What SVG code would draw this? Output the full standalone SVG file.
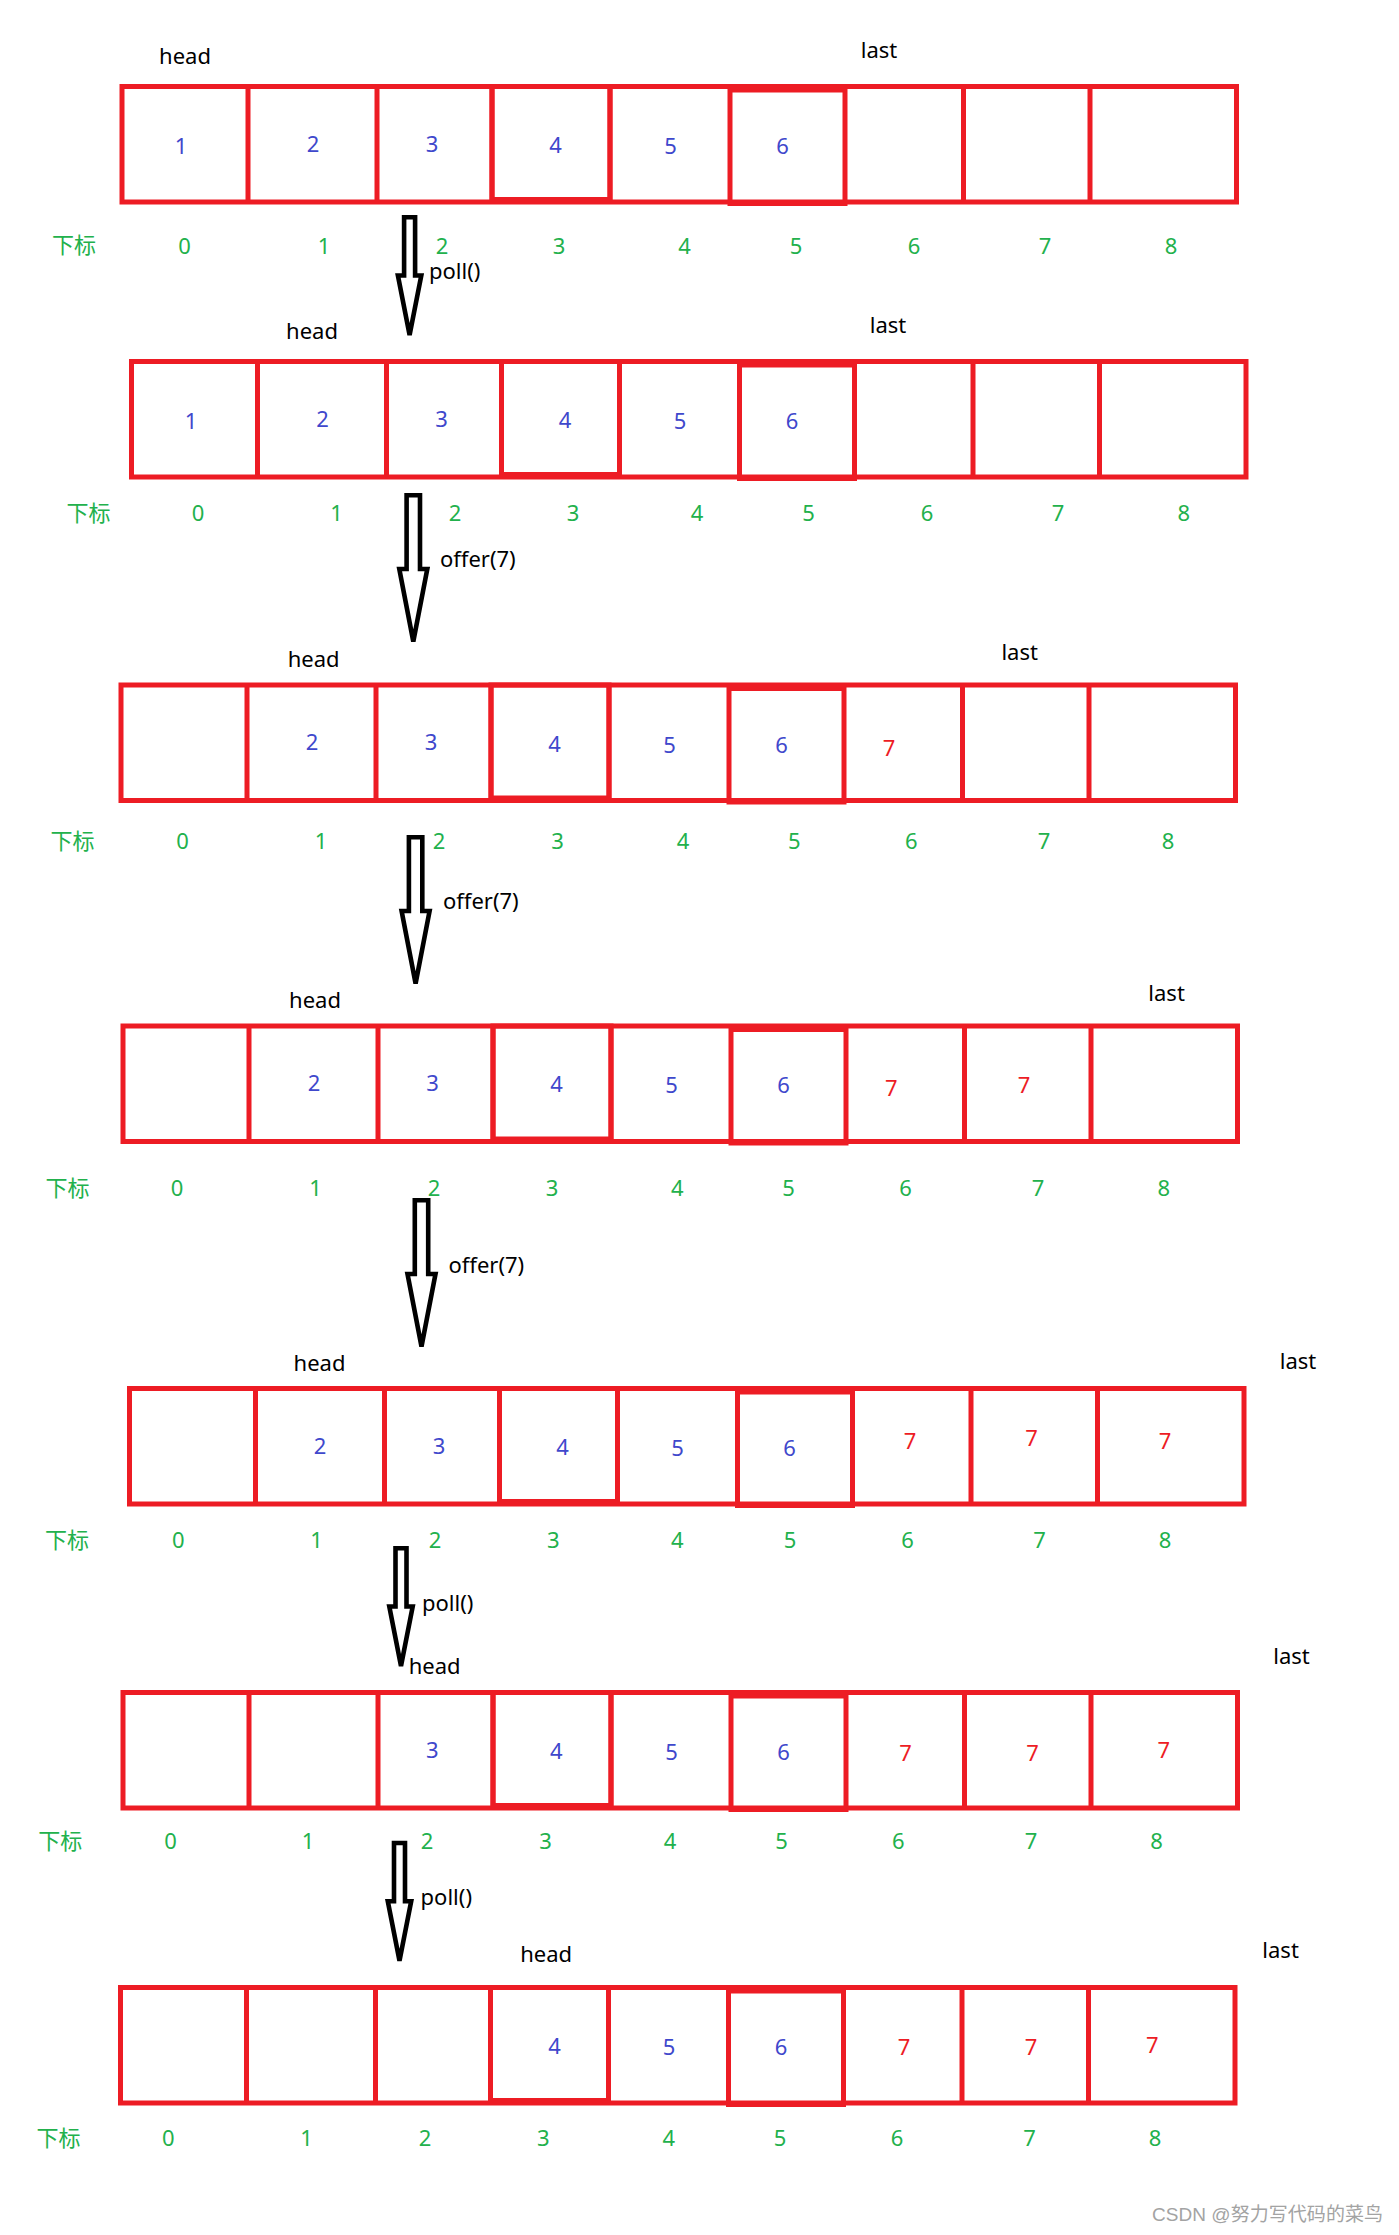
<svg xmlns="http://www.w3.org/2000/svg" xmlns:xlink="http://www.w3.org/1999/xlink" width="1399" height="2235" viewBox="0 0 1399 2235">
<style>
text{font-family:"Noto Sans","Liberation Sans","Noto Sans CJK SC",sans-serif;font-size:22px}
.k{fill:#000}
.b{fill:#3F48CC;text-anchor:middle}
.r{fill:#ED1C24;text-anchor:middle}
.g{fill:#22B14C;text-anchor:middle}
.m{text-anchor:middle}
.cj{font-family:"Noto Sans CJK SC","Noto Sans",sans-serif}
.wm{fill:#a3a3a3;font-family:"Liberation Sans","Noto Sans CJK SC",sans-serif;font-size:19px}
.arr{fill:#fff;stroke:#000;stroke-width:4.6;stroke-linejoin:miter}
</style>
<defs>
<g id="frame" fill="none" stroke="#ED1C24" stroke-width="5">
<rect x="122" y="86.5" width="1114.5" height="115.5"/>
<path d="M248,86.5V202M377,86.5V202M492,86.5V202M610,86.5V202M963.5,86.5V202M1090,86.5V202"/>
<rect x="492" y="86.5" width="118" height="113"/>
<rect x="730" y="90" width="115" height="113.5"/>
</g>
<path id="arrS" class="arr" d="M-5.5,2.3H5.5V60.5H11.7L0,120L-11.7,60.5H-5.5Z"/>
<path id="arrL" class="arr" d="M-6.7,2.3H6.7V76H14L0,148.5L-14,76H-6.7Z"/>
</defs>
<rect width="1399" height="2235" fill="#fff"/>

<g id="row1">
<use xlink:href="#frame"/>
<text class="k m" x="185" y="64">head</text>
<text class="k m" x="879" y="58">last</text>
<text class="b" x="181" y="153.5">1</text><text class="b" x="313" y="151.5">2</text><text class="b" x="432" y="151.5">3</text><text class="b" x="555.5" y="153">4</text><text class="b" x="670.5" y="154">5</text><text class="b" x="782.5" y="154">6</text>
<text class="g cj" x="74" y="253">下标</text>
<text class="g" x="184.5" y="254">0</text><text class="g" x="324" y="254">1</text><text class="g" x="442" y="254">2</text><text class="g" x="559" y="254">3</text><text class="g" x="684.5" y="254">4</text><text class="g" x="796" y="254">5</text><text class="g" x="914" y="254">6</text><text class="g" x="1045" y="254">7</text><text class="g" x="1171" y="254">8</text>
</g>

<g id="row2">
<use xlink:href="#frame" transform="translate(9.5,275)"/>
<text class="k m" x="312" y="338.5">head</text>
<text class="k m" x="888" y="332.5">last</text>
<text class="b" x="191" y="428.5">1</text><text class="b" x="322.5" y="426.5">2</text><text class="b" x="441.5" y="426.5">3</text><text class="b" x="565" y="428">4</text><text class="b" x="680" y="429">5</text><text class="b" x="792" y="429">6</text>
<text class="g cj" x="88.4" y="521">下标</text>
<text class="g" x="198" y="521">0</text><text class="g" x="336.6" y="521">1</text><text class="g" x="455" y="521">2</text><text class="g" x="573" y="521">3</text><text class="g" x="697" y="521">4</text><text class="g" x="808.6" y="521">5</text><text class="g" x="927" y="521">6</text><text class="g" x="1058" y="521">7</text><text class="g" x="1183.7" y="521">8</text>
</g>

<g id="row3">
<use xlink:href="#frame" transform="translate(-1,598.5)"/>
<text class="k m" x="313.7" y="667">head</text>
<text class="k m" x="1019.7" y="660">last</text>
<text class="b" x="312" y="750">2</text><text class="b" x="431" y="750">3</text><text class="b" x="554.5" y="751.5">4</text><text class="b" x="669.5" y="752.5">5</text><text class="b" x="781.5" y="752.5">6</text>
<text class="r" x="889" y="756">7</text>
<text class="g cj" x="72.5" y="849">下标</text>
<text class="g" x="182.5" y="849">0</text><text class="g" x="321" y="849">1</text><text class="g" x="439" y="849">2</text><text class="g" x="557.6" y="849">3</text><text class="g" x="683" y="849">4</text><text class="g" x="794.3" y="849">5</text><text class="g" x="911.3" y="849">6</text><text class="g" x="1044" y="849">7</text><text class="g" x="1168" y="849">8</text>
</g>

<g id="row4">
<use xlink:href="#frame" transform="translate(1,939.5)"/>
<text class="k m" x="315" y="1008">head</text>
<text class="k m" x="1166.6" y="1001">last</text>
<text class="b" x="314" y="1090.5">2</text><text class="b" x="432.5" y="1090.5">3</text><text class="b" x="556.5" y="1092">4</text><text class="b" x="671.5" y="1093">5</text><text class="b" x="783.5" y="1093">6</text>
<text class="r" x="891.3" y="1096">7</text><text class="r" x="1024" y="1093">7</text>
<text class="g cj" x="67.5" y="1196">下标</text>
<text class="g" x="177" y="1196">0</text><text class="g" x="315.5" y="1196">1</text><text class="g" x="434" y="1196">2</text><text class="g" x="552" y="1196">3</text><text class="g" x="677.4" y="1196">4</text><text class="g" x="788.6" y="1196">5</text><text class="g" x="905.6" y="1196">6</text><text class="g" x="1038" y="1196">7</text><text class="g" x="1163.7" y="1196">8</text>
</g>

<g id="row5">
<use xlink:href="#frame" transform="translate(7.5,1302)"/>
<text class="k m" x="319.5" y="1371">head</text>
<text class="k m" x="1298" y="1369">last</text>
<text class="b" x="320" y="1453.5">2</text><text class="b" x="439" y="1453.5">3</text><text class="b" x="562.5" y="1455">4</text><text class="b" x="677.5" y="1456">5</text><text class="b" x="789.6" y="1456">6</text>
<text class="r" x="910" y="1449">7</text><text class="r" x="1031.5" y="1446">7</text><text class="r" x="1165" y="1449">7</text>
<text class="g cj" x="67" y="1548">下标</text>
<text class="g" x="178.3" y="1548">0</text><text class="g" x="316.6" y="1548">1</text><text class="g" x="435" y="1548">2</text><text class="g" x="553.3" y="1548">3</text><text class="g" x="677.4" y="1548">4</text><text class="g" x="790" y="1548">5</text><text class="g" x="907.6" y="1548">6</text><text class="g" x="1039.6" y="1548">7</text><text class="g" x="1165" y="1548">8</text>
</g>

<g id="row6">
<use xlink:href="#frame" transform="translate(1,1606)"/>
<text class="k m" x="434.6" y="1674">head</text>
<text class="k m" x="1291.5" y="1664">last</text>
<text class="b" x="432.3" y="1758">3</text><text class="b" x="556.2" y="1759">4</text><text class="b" x="671.6" y="1760">5</text><text class="b" x="783.5" y="1760">6</text>
<text class="r" x="905.6" y="1760.5">7</text><text class="r" x="1032.5" y="1760.5">7</text><text class="r" x="1163.7" y="1758">7</text>
<text class="g cj" x="60.3" y="1849">下标</text>
<text class="g" x="170.5" y="1849">0</text><text class="g" x="308" y="1849">1</text><text class="g" x="427" y="1849">2</text><text class="g" x="545.5" y="1849">3</text><text class="g" x="670" y="1849">4</text><text class="g" x="781.5" y="1849">5</text><text class="g" x="898.4" y="1849">6</text><text class="g" x="1031" y="1849">7</text><text class="g" x="1156.6" y="1849">8</text>
</g>

<g id="row7">
<use xlink:href="#frame" transform="translate(-1.5,1901)"/>
<text class="k m" x="546.2" y="1962">head</text>
<text class="k m" x="1280.6" y="1957.5">last</text>
<text class="b" x="554.5" y="2053.5">4</text><text class="b" x="669" y="2054.5">5</text><text class="b" x="781" y="2054.5">6</text>
<text class="r" x="904.1" y="2054.5">7</text><text class="r" x="1031" y="2054.5">7</text><text class="r" x="1152.3" y="2053">7</text>
<text class="g cj" x="58.5" y="2146">下标</text>
<text class="g" x="168.3" y="2146">0</text><text class="g" x="306.6" y="2146">1</text><text class="g" x="425" y="2146">2</text><text class="g" x="543.3" y="2146">3</text><text class="g" x="668.8" y="2146">4</text><text class="g" x="780" y="2146">5</text><text class="g" x="897" y="2146">6</text><text class="g" x="1029.6" y="2146">7</text><text class="g" x="1155" y="2146">8</text>
</g>

<g id="connectors">
<use xlink:href="#arrS" transform="translate(409.6,215)"/>
<text class="k" x="429" y="279">poll()</text>
<use xlink:href="#arrL" transform="translate(413.3,493)"/>
<text class="k" x="440" y="567">offer(7)</text>
<use xlink:href="#arrL" transform="translate(415.6,835)"/>
<text class="k" x="443" y="908.5">offer(7)</text>
<use xlink:href="#arrL" transform="translate(421.5,1198)"/>
<text class="k" x="448.5" y="1273">offer(7)</text>
<use xlink:href="#arrS" transform="translate(401,1546)"/>
<text class="k" x="422" y="1611">poll()</text>
<use xlink:href="#arrS" transform="translate(399.5,1840.7)"/>
<text class="k" x="420.6" y="1905">poll()</text>
</g>

<text class="wm" x="1152" y="2221" textLength="231" lengthAdjust="spacing">CSDN @努力写代码的菜鸟</text>
</svg>
